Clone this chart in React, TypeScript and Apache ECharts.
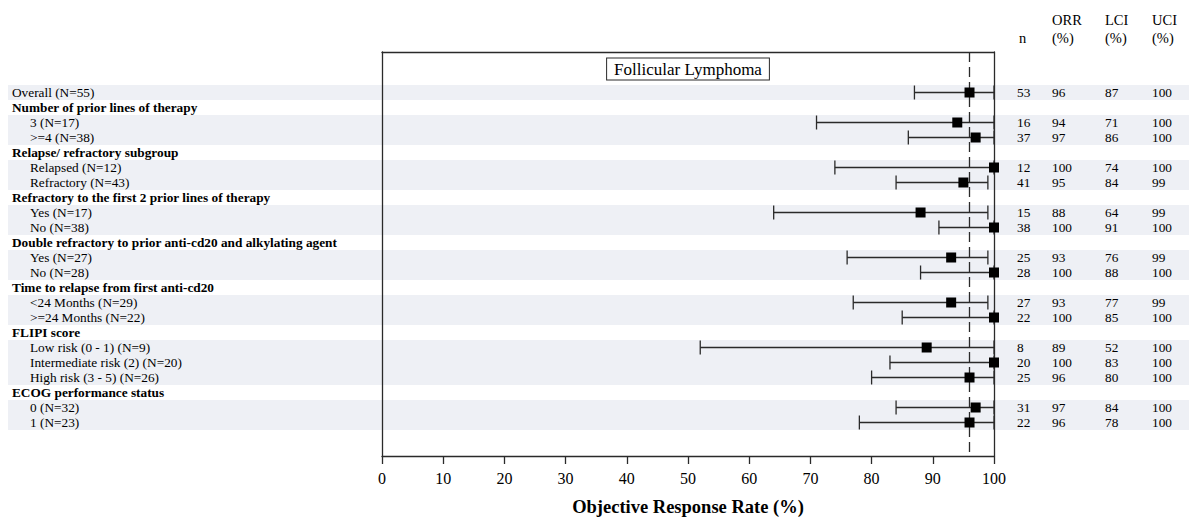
import React, { useEffect, useRef } from "react";
import * as echarts from "echarts";

const FONT = "Liberation Serif, Times New Roman, serif";

const rowLabels = [
  "Overall (N=55)",
  "Number of prior lines of therapy",
  "3 (N=17)",
  ">=4 (N=38)",
  "Relapse/ refractory subgroup",
  "Relapsed (N=12)",
  "Refractory (N=43)",
  "Refractory to the first 2 prior lines of therapy",
  "Yes (N=17)",
  "No (N=38)",
  "Double refractory to prior anti-cd20 and alkylating agent",
  "Yes (N=27)",
  "No (N=28)",
  "Time to relapse from first anti-cd20",
  "<24 Months (N=29)",
  ">=24 Months (N=22)",
  "FLIPI score",
  "Low risk (0 - 1) (N=9)",
  "Intermediate risk (2) (N=20)",
  "High risk (3 - 5) (N=26)",
  "ECOG performance status",
  "0 (N=32)",
  "1 (N=23)",
];
const rowKinds = [
  "overall", "header", "sub", "sub", "header", "sub", "sub", "header", "sub", "sub",
  "header", "sub", "sub", "header", "sub", "sub", "header", "sub", "sub", "sub",
  "header", "sub", "sub",
];
const nResponders = [53, null, 16, 37, null, 12, 41, null, 15, 38, null, 25, 28, null, 27, 22, null, 8, 20, 25, null, 31, 22];
const orrValues = [96, null, 94, 97, null, 100, 95, null, 88, 100, null, 93, 100, null, 93, 100, null, 89, 100, 96, null, 97, 96];
const lciValues = [87, null, 71, 86, null, 74, 84, null, 64, 91, null, 76, 88, null, 77, 85, null, 52, 83, 80, null, 84, 78];
const uciValues = [100, null, 100, 100, null, 100, 99, null, 99, 100, null, 99, 100, null, 99, 100, null, 100, 100, 100, null, 100, 100];
const referenceOrr = 96;
const tableHeaderTop = ["", "ORR", "LCI", "UCI"];
const tableHeaderBottom = ["n", "(%)", "(%)", "(%)"];
const chartTitle = "Follicular Lymphoma";
const xAxisTitle = "Objective Response Rate (%)";

const W = 1189;
const H = 521;
const GRID_LEFT = 382;
const GRID_RIGHT_X = 994;
const GRID_TOP = 52;
const GRID_BOTTOM_Y = 456;
const ROW_STEP = 15;
const Y_MIN = -2.7;
const Y_MAX = Y_MIN + (GRID_BOTTOM_Y - GRID_TOP) / ROW_STEP;
const TABLE_X = [1017, 1052, 1105, 1152];
const BAND = "#eef0f5";
const INK = "#2a2a2a";
const LABEL_SIZE = 13.3;

export default function App() {
  const ref = useRef<HTMLDivElement>(null);

  useEffect(() => {
    if (!ref.current) return;
    const chart = echarts.init(ref.current, undefined, { renderer: "svg" });

    const bands: number[][] = [];
    let start = -1;
    rowKinds.forEach((k, i) => {
      if (k !== "header") {
        if (start < 0) start = i;
        if (i === rowKinds.length - 1 || rowKinds[i + 1] === "header") {
          bands.push([start, i]);
          start = -1;
        }
      }
    });

    const barData: number[][] = [];
    const tableData: number[][] = [];
    rowLabels.forEach((_, i) => {
      if (orrValues[i] != null) {
        barData.push([lciValues[i] as number, orrValues[i] as number, uciValues[i] as number, i]);
        tableData.push([0, i, nResponders[i] as number, orrValues[i] as number, lciValues[i] as number, uciValues[i] as number]);
      }
    });

    const textStyle = (text: string, size: number, bold = false) => ({
      text,
      fill: "#000",
      fontFamily: FONT,
      fontSize: size,
      fontWeight: bold ? "bold" : "normal",
      align: "left",
      verticalAlign: "middle",
    });

    const headerGraphics: any[] = [];
    TABLE_X.forEach((x, c) => {
      if (tableHeaderTop[c]) {
        headerGraphics.push({ type: "text", x, y: 20, style: textStyle(tableHeaderTop[c], 14.5) });
      }
      headerGraphics.push({ type: "text", x: c === 0 ? x + 2 : x, y: 38, style: textStyle(tableHeaderBottom[c], 14.5) });
    });
    headerGraphics.push({
      type: "text",
      x: (GRID_LEFT + GRID_RIGHT_X) / 2,
      y: 69,
      z: 10,
      style: {
        text: chartTitle,
        fill: "#000",
        fontFamily: FONT,
        fontSize: 17,
        align: "center",
        verticalAlign: "middle",
        padding: [2, 7, 2, 7],
        borderColor: INK,
        borderWidth: 1,
        backgroundColor: "#fff",
      },
    });

    const hiddenAxis = {
      axisTick: { show: false },
      axisLabel: { show: false },
      splitLine: { show: false },
    };

    chart.setOption({
      animation: false,
      textStyle: { fontFamily: FONT },
      graphic: headerGraphics,
      grid: {
        left: GRID_LEFT,
        right: W - GRID_RIGHT_X,
        top: GRID_TOP,
        bottom: H - GRID_BOTTOM_Y,
        containLabel: false,
      },
      xAxis: [
        {
          type: "value",
          min: 0,
          max: 100,
          interval: 10,
          position: "bottom",
          z: 5,
          axisLine: { show: true, onZero: false, lineStyle: { color: INK, width: 1.3 } },
          axisTick: { show: true, length: 8, inside: false, lineStyle: { color: INK, width: 1.3 } },
          axisLabel: { show: true, margin: 14, color: "#000", fontFamily: FONT, fontSize: 16 },
          splitLine: { show: false },
          name: xAxisTitle,
          nameLocation: "middle",
          nameGap: 41,
          nameTextStyle: { fontFamily: FONT, fontSize: 18.5, fontWeight: "bold", color: "#000" },
        },
        {
          type: "value",
          min: 0,
          max: 100,
          position: "top",
          z: 5,
          axisLine: { show: true, onZero: false, lineStyle: { color: INK, width: 1.3 } },
          ...hiddenAxis,
        },
      ],
      yAxis: [
        {
          type: "value",
          min: Y_MIN,
          max: Y_MAX,
          inverse: true,
          position: "left",
          z: 5,
          axisLine: { show: true, onZero: false, lineStyle: { color: INK, width: 1.3 } },
          ...hiddenAxis,
        },
        {
          type: "value",
          min: Y_MIN,
          max: Y_MAX,
          inverse: true,
          position: "right",
          z: 5,
          axisLine: { show: true, onZero: false, lineStyle: { color: INK, width: 1.3 } },
          ...hiddenAxis,
        },
      ],
      series: [
        {
          type: "custom",
          name: "bands",
          z: 1,
          silent: true,
          xAxisIndex: 0,
          yAxisIndex: 0,
          data: bands,
          encode: { x: -1, y: [0, 1] },
          renderItem: (params: any, api: any) => {
            const y0 = api.coord([0, api.value(0) - 0.5])[1];
            const y1 = api.coord([0, api.value(1) + 0.5])[1];
            return {
              type: "rect",
              shape: { x: 8, y: y0, width: W - 8, height: y1 - y0 },
              style: { fill: BAND },
            };
          },
        },
        {
          type: "custom",
          name: "labels",
          z: 6,
          silent: true,
          xAxisIndex: 0,
          yAxisIndex: 0,
          data: rowLabels.map((_, i) => [0, i]),
          encode: { x: 0, y: 1 },
          renderItem: (params: any, api: any) => {
            const i = params.dataIndex;
            const y = api.coord([0, api.value(1)])[1];
            const kind = rowKinds[i];
            return {
              type: "text",
              x: kind === "sub" ? 30 : 12,
              y,
              style: textStyle(rowLabels[i], LABEL_SIZE, kind === "header"),
            };
          },
        },
        {
          type: "custom",
          name: "table",
          z: 6,
          silent: true,
          xAxisIndex: 0,
          yAxisIndex: 0,
          data: tableData,
          encode: { x: 0, y: 1 },
          renderItem: (params: any, api: any) => {
            const y = api.coord([0, api.value(1)])[1];
            const children = [2, 3, 4, 5].map((d, c) => ({
              type: "text",
              x: TABLE_X[c],
              y,
              style: textStyle(String(api.value(d)), LABEL_SIZE),
            }));
            return { type: "group", children };
          },
        },
        {
          type: "custom",
          name: "ORR",
          z: 8,
          silent: true,
          xAxisIndex: 0,
          yAxisIndex: 0,
          data: barData,
          encode: { x: [0, 1, 2], y: 3 },
          renderItem: (params: any, api: any) => {
            const row = api.value(3);
            const pL = api.coord([api.value(0), row]);
            const pM = api.coord([api.value(1), row]);
            const pU = api.coord([api.value(2), row]);
            const ls = { stroke: INK, lineWidth: 1.3 };
            const cap = 7;
            const sq = 10;
            return {
              type: "group",
              children: [
                { type: "line", shape: { x1: pL[0], y1: pL[1], x2: pU[0], y2: pU[1] }, style: ls },
                { type: "line", shape: { x1: pL[0], y1: pL[1] - cap, x2: pL[0], y2: pL[1] + cap }, style: ls },
                { type: "line", shape: { x1: pU[0], y1: pU[1] - cap, x2: pU[0], y2: pU[1] + cap }, style: ls },
                { type: "rect", z2: 10, shape: { x: pM[0] - sq / 2, y: pM[1] - sq / 2, width: sq, height: sq }, style: { fill: "#000" } },
              ],
            };
          },
          markLine: {
            silent: true,
            symbol: ["none", "none"],
            label: { show: false },
            lineStyle: { color: INK, width: 1.3, type: [10, 5] },
            data: [{ xAxis: referenceOrr }],
          },
        },
      ],
    });

    return () => chart.dispose();
  }, []);

  return (
    <div
      ref={ref}
      style={{ position: "absolute", left: 0, top: 0, width: W, height: H, background: "#fff" }}
    />
  );
}
